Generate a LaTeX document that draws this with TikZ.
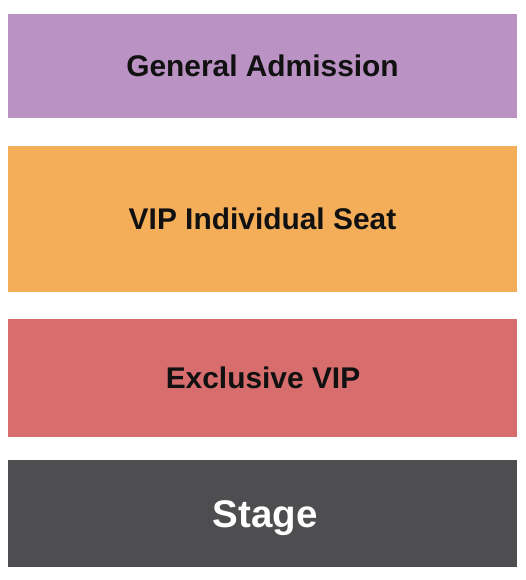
\documentclass[tikz,border=0pt]{standalone}
\usepackage{fontspec}
\setmainfont{Liberation Sans}
\definecolor{gacol}{HTML}{BA92C4}
\definecolor{vipcol}{HTML}{F4AE5A}
\definecolor{exccol}{HTML}{D76D6C}
\definecolor{stagecol}{HTML}{4E4D4F}
\definecolor{labelcol}{HTML}{111111}
\begin{document}
\begin{tikzpicture}[x=1pt,y=-1pt,
  seclabel/.style={font=\fontsize{29.9}{31}\selectfont\bfseries,text=labelcol,text height=21.4pt,text depth=0pt,inner sep=0pt},
  stagelabel/.style={font=\fontsize{38.5}{40}\selectfont\bfseries,text=white,text height=27.6pt,text depth=0pt,inner sep=0pt}]
\useasboundingbox[fill=white] (0,0) rectangle (525,580);
\fill[gacol] (8,14) rectangle (517,118);
\fill[vipcol] (8,146) rectangle (517,292);
\fill[exccol] (8,319) rectangle (517,437);
\fill[stagecol] (8,460) rectangle (517,567);
\node[seclabel] (ga) at (262.5,65.5) {General Admission};
\node[seclabel] (vip) at (262.5,219) {VIP Individual Seat};
\node[seclabel] (exc) at (263,378) {Exclusive VIP};
\node[stagelabel] (stage) at (265,514) {Stage};
\end{tikzpicture}
\end{document}
